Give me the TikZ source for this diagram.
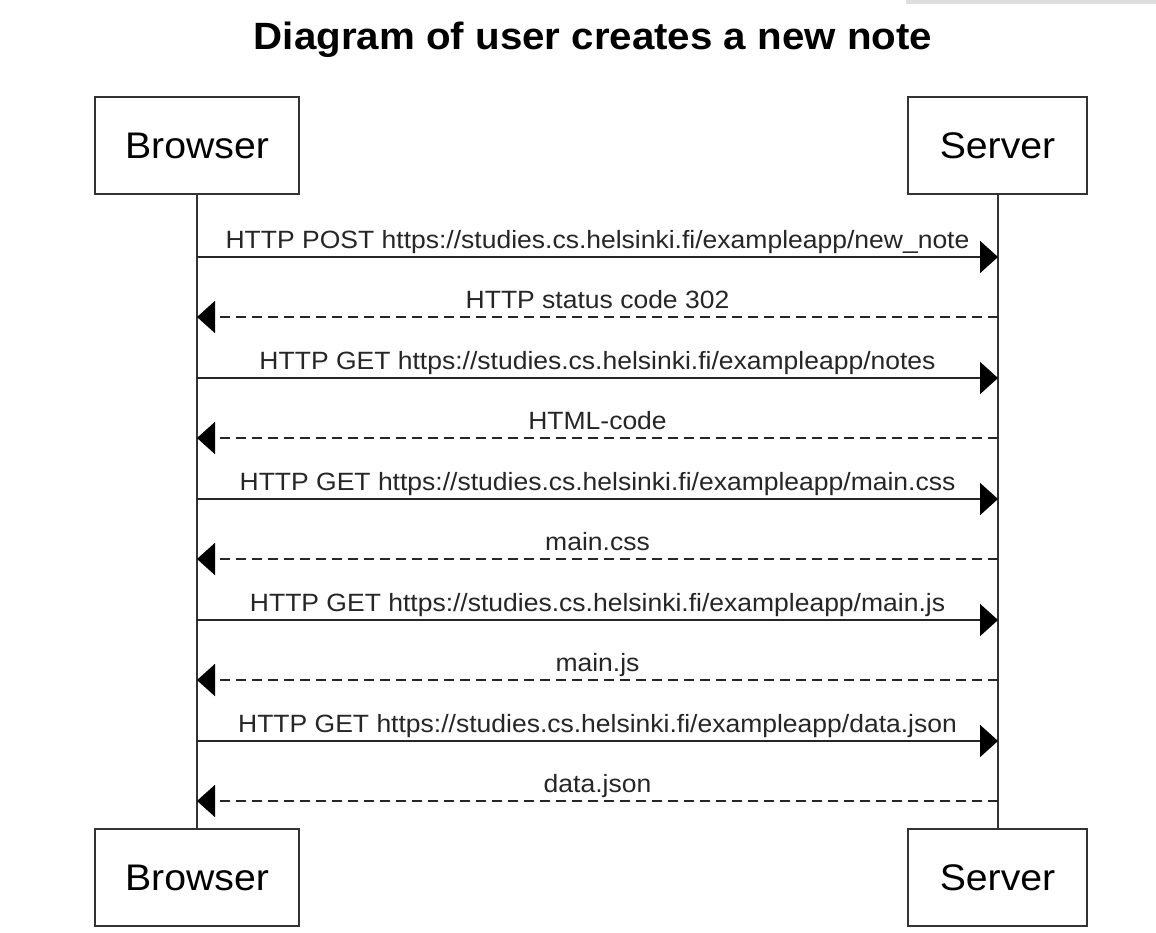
\documentclass[tikz,border=0pt]{standalone}
\usepackage{fontspec}
\setmainfont{Liberation Sans}[FakeStretch=1.06]
\usetikzlibrary{arrows.meta}
\tikzset{
  actor/.style={draw=black!80, line width=2pt, fill=white, minimum width=#1, minimum height=97pt, inner sep=0pt, font=\fontsize{37}{44}\selectfont},
  lifeline/.style={draw=black!80, line width=2pt},
  req/.style={draw=black!85, line width=2pt, -{Triangle[length=18pt,width=32pt,color=black]}},
  resp/.style={req, dash pattern=on 10pt off 6pt},
  msg/.style={font=\fontsize{25}{30}\selectfont, text=black!85, inner sep=0pt, anchor=base},
}
\begin{document}
\begin{tikzpicture}[x=1pt,y=-1pt]
\useasboundingbox (0,0) rectangle (1156,932);
\fill[white] (0,0) rectangle (1156,932);
\fill[black!13] (906,0) rectangle (1156,3.5);
\node[font=\fontsize{38}{44}\selectfont\bfseries, anchor=base, inner sep=0pt] (title) at (593,49) {Diagram of user creates a new note};
\node[actor=204pt] (bt) at (197,145.5) {Browser};
\node[actor=179pt] (st) at (997.5,145.5) {Server};
\node[actor=204pt] (bb) at (197,877.5) {Browser};
\node[actor=179pt] (sb) at (997.5,877.5) {Server};
\draw[lifeline] (bt.south) -- (bb.north);
\draw[lifeline] (st.south) -- (sb.north);
\foreach \i/\y in {1/257,2/317,3/378,4/438,5/499,6/559,7/620,8/680,9/741,10/801}{
  \coordinate (b\i) at (197,\y);
  \coordinate (s\i) at (998,\y);
}
\draw[req] (b1) -- node[msg, yshift=9pt] {HTTP POST https://studies.cs.helsinki.fi/exampleapp/new\_note} (s1);
\draw[resp] (s2) -- node[msg, yshift=9pt] {HTTP status code 302} (b2);
\draw[req] (b3) -- node[msg, yshift=9pt] {HTTP GET https://studies.cs.helsinki.fi/exampleapp/notes} (s3);
\draw[resp] (s4) -- node[msg, yshift=9pt] {HTML-code} (b4);
\draw[req] (b5) -- node[msg, yshift=9pt] {HTTP GET https://studies.cs.helsinki.fi/exampleapp/main.css} (s5);
\draw[resp] (s6) -- node[msg, yshift=9pt] {main.css} (b6);
\draw[req] (b7) -- node[msg, yshift=9pt] {HTTP GET https://studies.cs.helsinki.fi/exampleapp/main.js} (s7);
\draw[resp] (s8) -- node[msg, yshift=9pt] {main.js} (b8);
\draw[req] (b9) -- node[msg, yshift=9pt] {HTTP GET https://studies.cs.helsinki.fi/exampleapp/data.json} (s9);
\draw[resp] (s10) -- node[msg, yshift=9pt] {data.json} (b10);
\end{tikzpicture}
\end{document}
